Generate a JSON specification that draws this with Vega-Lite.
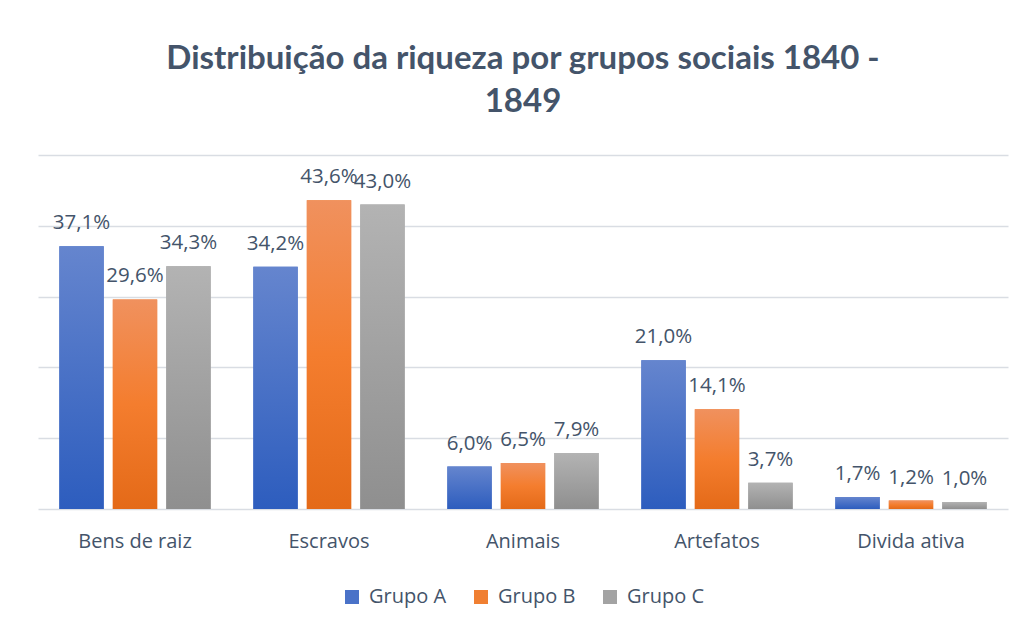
{
  "$schema": "https://vega.github.io/schema/vega-lite/v6.json",
  "width": 970,
  "height": 354,
  "autosize": "none",
  "padding": {"left": 38, "top": 155, "right": 16, "bottom": 119},
  "background": "white",
  "config": {
    "locale": {"number": {"decimal": ",", "thousands": ".", "grouping": [3], "currency": ["R$", ""]}},
    "view": {"stroke": null},
    "font": "Open Sans",
    "legend": {"layout": {"bottom": {"anchor": "middle"}}}
  },
  "title": {
    "text": ["Distribuição da riqueza por grupos sociais 1840 -", "1849"],
    "font": "Lato",
    "fontSize": 33,
    "fontWeight": "bold",
    "color": "#44546A",
    "anchor": "middle",
    "lineHeight": 43,
    "offset": 36
  },
  "data": {
    "values": [
      {"categoria": "Bens de raiz", "grupo": "Grupo A", "valor": 0.371},
      {"categoria": "Bens de raiz", "grupo": "Grupo B", "valor": 0.296},
      {"categoria": "Bens de raiz", "grupo": "Grupo C", "valor": 0.343},
      {"categoria": "Escravos", "grupo": "Grupo A", "valor": 0.342},
      {"categoria": "Escravos", "grupo": "Grupo B", "valor": 0.436},
      {"categoria": "Escravos", "grupo": "Grupo C", "valor": 0.430},
      {"categoria": "Animais", "grupo": "Grupo A", "valor": 0.060},
      {"categoria": "Animais", "grupo": "Grupo B", "valor": 0.065},
      {"categoria": "Animais", "grupo": "Grupo C", "valor": 0.079},
      {"categoria": "Artefatos", "grupo": "Grupo A", "valor": 0.210},
      {"categoria": "Artefatos", "grupo": "Grupo B", "valor": 0.141},
      {"categoria": "Artefatos", "grupo": "Grupo C", "valor": 0.037},
      {"categoria": "Divida ativa", "grupo": "Grupo A", "valor": 0.017},
      {"categoria": "Divida ativa", "grupo": "Grupo B", "valor": 0.012},
      {"categoria": "Divida ativa", "grupo": "Grupo C", "valor": 0.010}
    ]
  },
  "encoding": {
    "x": {
      "field": "categoria",
      "type": "nominal",
      "sort": null,
      "scale": {"paddingInner": 0.22, "paddingOuter": 0.11},
      "axis": {
        "title": null,
        "labelAngle": 0,
        "domain": false,
        "ticks": false,
        "labelFontSize": 20,
        "labelColor": "#44546A",
        "labelPadding": 22,
        "labelFont": "Open Sans"
      }
    },
    "xOffset": {
      "field": "grupo",
      "type": "nominal",
      "scale": {"paddingInner": 0.17, "paddingOuter": 0}
    },
    "y": {
      "field": "valor",
      "type": "quantitative",
      "scale": {"domain": [0, 0.5], "nice": false},
      "axis": {
        "title": null,
        "labels": false,
        "ticks": false,
        "domain": false,
        "values": [0, 0.1, 0.2, 0.3, 0.4, 0.5],
        "gridColor": "#D9DDE3",
        "gridWidth": 1.5
      }
    }
  },
  "layer": [
    {
      "mark": {"type": "bar"},
      "encoding": {
        "color": {
          "field": "grupo",
          "type": "nominal",
          "scale": {
            "domain": ["Grupo A", "Grupo B", "Grupo C"],
            "range": ["#4A72C8", "#F07F32", "#A3A3A3"]
          },
          "legend": {
            "title": null,
            "orient": "bottom",
            "direction": "horizontal",
            "symbolType": "square",
            "symbolSize": 196,
            "symbolStrokeWidth": 0,
            "symbolOpacity": 1,
            "labelFontSize": 20,
            "labelColor": "#44546A",
            "labelFont": "Open Sans",
            "columnPadding": 24,
            "labelOffset": 7,
            "offset": 36
          }
        }
      }
    },
    {
      "mark": {"type": "bar"},
      "encoding": {
        "fill": {
          "condition": [
            {"test": "datum.grupo === 'Grupo A'", "value": {"gradient": "linear", "x1": 0, "y1": 0, "x2": 0, "y2": 1, "stops": [{"offset": 0, "color": "#6585CE"}, {"offset": 1, "color": "#2D5DBE"}]}},
            {"test": "datum.grupo === 'Grupo B'", "value": {"gradient": "linear", "x1": 0, "y1": 0, "x2": 0, "y2": 1, "stops": [{"offset": 0, "color": "#F0915E"}, {"offset": 0.5, "color": "#F47D2E"}, {"offset": 1, "color": "#E46A18"}]}}
          ],
          "value": {"gradient": "linear", "x1": 0, "y1": 0, "x2": 0, "y2": 1, "stops": [{"offset": 0, "color": "#B3B3B3"}, {"offset": 1, "color": "#8F8F8F"}]}
        }
      }
    },
    {
      "mark": {"type": "text", "baseline": "bottom", "dy": -13, "fontSize": 20.5, "color": "#44546A", "font": "Open Sans"},
      "encoding": {
        "text": {"field": "valor", "type": "quantitative", "format": ".1%"}
      }
    }
  ]
}
